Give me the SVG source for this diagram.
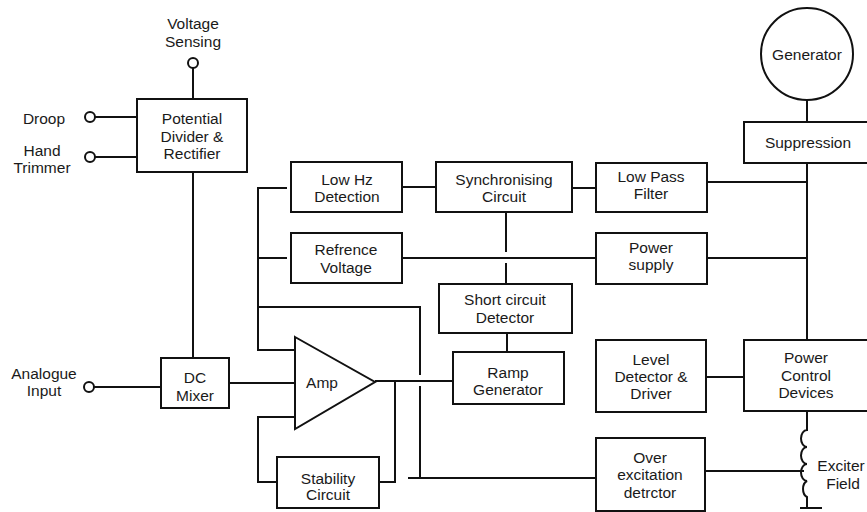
<svg xmlns="http://www.w3.org/2000/svg" width="867" height="512" viewBox="0 0 867 512">
<style>
.b{fill:#fff;stroke:#111;stroke-width:2}
.w{fill:none;stroke:#111;stroke-width:2}
.t{font-family:"Liberation Sans",Arial,sans-serif;font-size:15.5px;fill:#1a1a1a;text-anchor:middle}
.term{fill:#fff;stroke:#111;stroke-width:2}
</style>
<rect width="867" height="512" fill="#fff"/>
<g id="connectors" class="w">
<path d="M193,68V99"/>
<path d="M95,117H137"/>
<path d="M95,157H137"/>
<path d="M193,172V358"/>
<path d="M94,387H161"/>
<path d="M229,383H295"/>
<path d="M287,188H258V350H295"/>
<path d="M287,258H258"/>
<path d="M258,307H420V375"/>
<path d="M420,386V478"/>
<path d="M408,478H596"/>
<path d="M295,417H258V482H277"/>
<path d="M379,482H395V381"/>
<path d="M375,381H453"/>
<path d="M402,187H436"/>
<path d="M572,188H596"/>
<path d="M506,212V252"/>
<path d="M506,263V284"/>
<path d="M402,258H596"/>
<path d="M507,333V352"/>
<path d="M707,182H807"/>
<path d="M707,258H807"/>
<path d="M807,100V122"/>
<path d="M807,163V340"/>
<path d="M706,377H744"/>
<path d="M807,411V430a6,8.5 0 0 0 0,17a6,8.5 0 0 0 0,17a6,8.5 0 0 0 0,17a6,8.5 0 0 0 0,16V508"/>
<path d="M800,508H822"/>
<path d="M705,471H804"/>
</g>
<g id="voltage-sensing"><circle class="term" cx="193" cy="63" r="5"/><text class="t" x="193" y="28.5">Voltage</text><text class="t" x="193" y="46.5">Sensing</text></g>
<g id="droop"><circle class="term" cx="90" cy="117" r="5"/><text class="t" x="44" y="123.5">Droop</text></g>
<g id="hand-trimmer"><circle class="term" cx="90" cy="157" r="5"/><text class="t" x="42" y="155.5">Hand</text><text class="t" x="42" y="172.5">Trimmer</text></g>
<g id="analogue-input"><circle class="term" cx="89" cy="387" r="5"/><text class="t" x="44" y="378.5">Analogue</text><text class="t" x="44" y="395.5">Input</text></g>
<g id="potential-divider"><rect class="b" x="137" y="99" width="110" height="73"/><text class="t" x="192" y="123.5">Potential</text><text class="t" x="192" y="141.5">Divider &amp;</text><text class="t" x="192" y="158.5">Rectifier</text></g>
<g id="dc-mixer"><rect class="b" x="161" y="358" width="68" height="50"/><text class="t" x="195" y="382.5">DC</text><text class="t" x="195" y="400.5">Mixer</text></g>
<g id="amp"><path class="b" d="M295,337L375,382L295,429Z"/><text class="t" x="322" y="388">Amp</text></g>
<g id="stability-circuit"><rect class="b" x="277" y="457" width="102" height="51"/><text class="t" x="328" y="483.5">Stability</text><text class="t" x="328" y="499.5">Circuit</text></g>
<g id="low-hz-detection"><rect class="b" x="291" y="162" width="111" height="50"/><text class="t" x="347" y="184.5">Low Hz</text><text class="t" x="347" y="201.5">Detection</text></g>
<g id="synchronising-circuit"><rect class="b" x="436" y="162" width="136" height="50"/><text class="t" x="504" y="184.5">Synchronising</text><text class="t" x="504" y="201.5">Circuit</text></g>
<g id="refrence-voltage"><rect class="b" x="291" y="233" width="111" height="50"/><text class="t" x="346" y="254.5">Refrence</text><text class="t" x="346" y="272.5">Voltage</text></g>
<g id="short-circuit-detector"><rect class="b" x="439" y="284" width="133" height="49"/><text class="t" x="505" y="304.5">Short circuit</text><text class="t" x="505" y="322.5">Detector</text></g>
<g id="ramp-generator"><rect class="b" x="453" y="352" width="111" height="52"/><text class="t" x="508" y="377.5">Ramp</text><text class="t" x="508" y="394.5">Generator</text></g>
<g id="low-pass-filter"><rect class="b" x="596" y="163" width="111" height="49"/><text class="t" x="651" y="181.5">Low Pass</text><text class="t" x="651" y="198.5">Filter</text></g>
<g id="power-supply"><rect class="b" x="596" y="233" width="111" height="51"/><text class="t" x="651" y="252.5">Power</text><text class="t" x="651" y="269.5">supply</text></g>
<g id="generator"><circle class="b" cx="807" cy="54" r="46"/><text class="t" x="807" y="59.5">Generator</text></g>
<g id="suppression"><rect class="b" x="744" y="122" width="130" height="41"/><text class="t" x="808" y="147.5">Suppression</text></g>
<g id="level-detector"><rect class="b" x="596" y="340" width="110" height="72"/><text class="t" x="651" y="364.5">Level</text><text class="t" x="651" y="381.5">Detector &amp;</text><text class="t" x="651" y="398.5">Driver</text></g>
<g id="power-control-devices"><rect class="b" x="744" y="340" width="130" height="71"/><text class="t" x="806" y="362.5">Power</text><text class="t" x="806" y="380.5">Control</text><text class="t" x="806" y="397.5">Devices</text></g>
<g id="over-excitation-detrctor"><rect class="b" x="596" y="438" width="109" height="73"/><text class="t" x="650" y="462.5">Over</text><text class="t" x="650" y="479.5">excitation</text><text class="t" x="650" y="497.5">detrctor</text></g>
<g id="exciter-field"><text class="t" x="841" y="470.5">Exciter</text><text class="t" x="843" y="488.5">Field</text></g>
</svg>
